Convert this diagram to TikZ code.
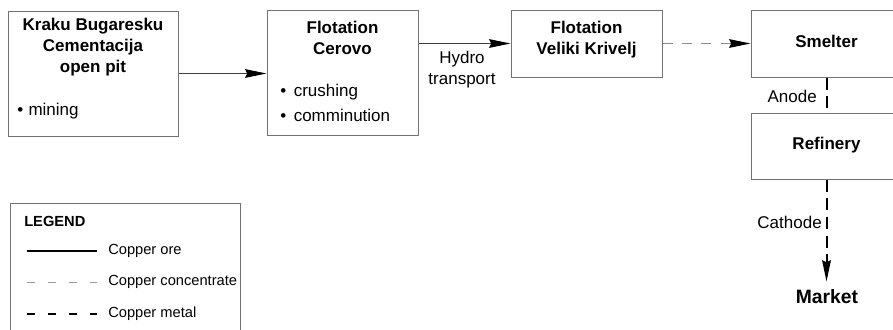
\documentclass[tikz,border=0pt]{standalone}
\usepackage{fontspec}
\setmainfont{Liberation Sans}
\usetikzlibrary{arrows.meta}
\tikzset{
  box/.style={draw=black!55, line width=0.75pt, inner sep=0pt},
  ttl/.style={font=\fontsize{12.75}{15.75}\selectfont\bfseries, align=center, inner sep=0pt},
  txt/.style={font=\fontsize{12.75}{15.75}\selectfont, inner sep=0pt},
  lgt/.style={font=\fontsize{11}{13}\selectfont, inner sep=0pt, anchor=west},
  tip/.style={-{Stealth[length=16pt,width=6.5pt,inset=1.5pt,color=black]}},
  ore/.style={draw=black!75, line width=0.75pt},
  conc/.style={draw=black!45, line width=0.75pt, dash pattern=on 7.5pt off 7pt},
  metal/.style={draw=black, line width=1.5pt, dash pattern=on 9pt off 5pt},
}
\begin{document}
\begin{tikzpicture}[x=0.75pt,y=-0.75pt]
\useasboundingbox (0,0) rectangle (893,329);
\clip (0,0) rectangle (893,329);
% boxes
\node[box, minimum width=127.5pt, minimum height=93.75pt] (b1) at (93,73.5) {};
\node[box, minimum width=113.25pt, minimum height=93.75pt] (b2) at (342.5,72.5) {};
\node[box, minimum width=113.25pt, minimum height=50.25pt] (b3) at (586.5,43.5) {};
\node[box, minimum width=113.25pt, minimum height=50.25pt] (sm) at (826.5,43.5) {};
\node[box, minimum width=113.25pt, minimum height=49.5pt] (rf) at (826.5,146) {};
% texts
\node[ttl] (t1) at (93,47.5) {Kraku Bugaresku\\Cementacija\\open pit};
\node[txt, anchor=west] (m1) at (17,111) {\textbullet\hspace{4pt}mining};
\node[ttl] (t2) at (342.5,38) {Flotation\\Cerovo};
\node[txt, anchor=west] (c1) at (280,92) {\textbullet\ \,crushing};
\node[txt, anchor=west] (c2) at (280,115) {\textbullet\ \,comminution};
\node[ttl] (t3) at (586.5,39.5) {Flotation\\Veliki Krivelj};
\node[ttl] (t4) at (826.5,41.5) {Smelter};
\node[ttl] (t5) at (826.5,145) {Refinery};
\node[ttl, font=\fontsize{14.5}{17}\selectfont\bfseries] (mk) at (827,297) {Market};
% connectors
\draw[ore, tip] (b1.east) -- (b1.east -| b2.west);
\draw[ore, tip] (b3.west -| b2.east) -- (b3.west);
\node[txt, align=center] (hy) at (462,70) {Hydro\\transport};
\draw[conc, tip] (b3.east) -- (sm.west);
\draw[metal] (sm.south) -- (rf.north);
\node[txt, anchor=east] (an) at (817,96) {Anode};
\draw[metal, tip, shorten >=6pt] (rf.south) -- (rf.south |- mk.north);
\node[txt, anchor=east] (ca) at (822,222) {Cathode};
% legend
\node[box, minimum width=172.5pt, minimum height=105pt, anchor=north west] (lg) at (10,203) {};
\node[lgt, font=\fontsize{11}{13}\selectfont\bfseries] (lt) at (24,221) {LEGEND};
\coordinate (l1a) at (27,251); \coordinate (l1b) at (97,251);
\coordinate (l2a) at (27,282); \coordinate (l2b) at (97,282);
\coordinate (l3a) at (27,314); \coordinate (l3b) at (97,314);
\draw[draw=black, line width=1.3pt] (l1a) -- (l1b);
\draw[draw=black!40, line width=0.75pt, dash pattern=on 6pt off 9.75pt] (l2a) -- (l2b);
\draw[draw=black, line width=1.5pt, dash pattern=on 6pt off 9.75pt] (l3a) -- (l3b);
\node[lgt] (g1) at (108,251) {Copper ore};
\node[lgt] (g2) at (108,282) {Copper concentrate};
\node[lgt] (g3) at (108,314) {Copper metal};
\end{tikzpicture}
\end{document}
